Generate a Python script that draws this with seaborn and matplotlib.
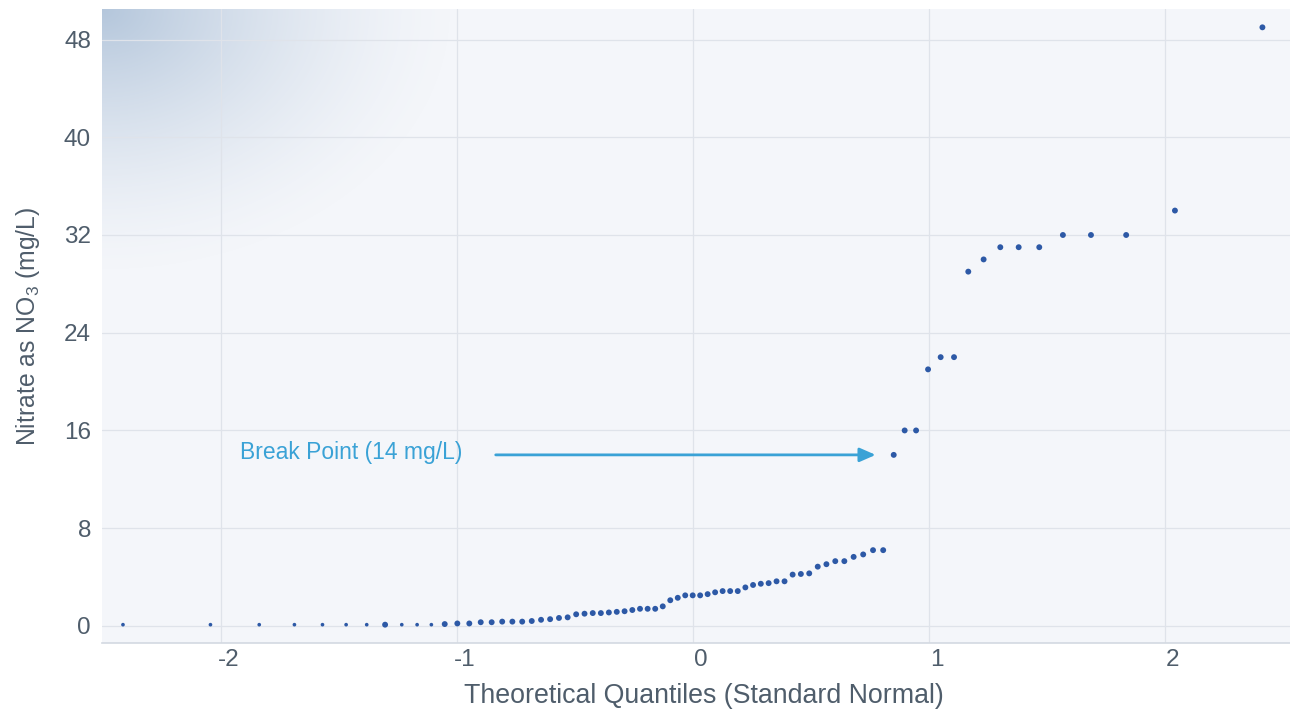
import numpy as np
import pandas as pd
import matplotlib
matplotlib.use("Agg")
import matplotlib.pyplot as plt
import matplotlib.transforms as mtransforms
import seaborn as sns
from statistics import NormalDist

# Sorted nitrate results (mg/L as NO3)
nitrate = [
    0.1, 0.1, 0.1, 0.1, 0.1, 0.1, 0.1, 0.1, 0.1, 0.1, 0.1,
    0.15, 0.2, 0.2, 0.3, 0.3, 0.35, 0.35, 0.35, 0.4, 0.5, 0.55, 0.65, 0.7,
    0.95, 1.0, 1.05, 1.05, 1.1, 1.15, 1.2, 1.3, 1.4, 1.4, 1.4, 1.6,
    2.1, 2.3, 2.5, 2.5, 2.5, 2.6, 2.75, 2.85, 2.85, 2.85,
    3.15, 3.35, 3.45, 3.5, 3.65, 3.65, 4.2, 4.25, 4.3, 4.85, 5.05,
    5.3, 5.3, 5.65, 5.85, 6.2, 6.2,
    14, 16, 16, 21, 22, 22, 29, 30, 31, 31, 31, 32, 32, 32, 34, 49,
]
# Results reported below the laboratory reporting limit
below_rl = [True] * 7 + [False] + [True] * 3 + [False] * (len(nitrate) - 11)

y_ticks = [0, 8, 16, 24, 32, 40, 48]
x_ticks = [-2, -1, 0, 1, 2]
break_value = 14
break_label = "Break Point (14 mg/L)"

# Blom plotting positions -> standard normal quantiles
n = len(nitrate)
nd = NormalDist()
quantiles = [nd.inv_cdf((i - 0.375) / (n + 0.25)) for i in range(1, n + 1)]

df = pd.DataFrame({"quantile": quantiles, "nitrate": nitrate,
                   "below_rl": below_rl})

sns.set_theme(style="white")
plt.rcParams["font.family"] = ["Liberation Sans", "DejaVu Sans"]
plt.rcParams["axes.unicode_minus"] = False
plt.rcParams["mathtext.default"] = "regular"

text_col = "#4f5d6b"
dot_col = "#2d59a6"
arrow_col = "#3aa2d6"
bg_col = "#f4f6fa"

fig = plt.figure(figsize=(12.9, 7.1), dpi=100, facecolor="white")
ax = fig.add_axes([102 / 1290, (710 - 643) / 710, 1 - 102 / 1290, (643 - 9) / 710])
ax.set_facecolor(bg_col)

# soft shaded corner in the upper left of the plotting area
h, w = 300, 600
yy, xx = np.mgrid[0:h, 0:w]
dx = xx / w
dy = yy / h
r = np.sqrt((dx / 0.30) ** 2 + (dy / 0.42) ** 2)
alpha = np.clip(1 - r, 0, 1) ** 1.5 * 0.9
rgba = np.zeros((h, w, 4))
rgba[..., 0] = 0.68
rgba[..., 1] = 0.76
rgba[..., 2] = 0.85
rgba[..., 3] = alpha
ax.imshow(rgba, extent=[0, 1, 0, 1], transform=ax.transAxes,
          aspect="auto", zorder=0, interpolation="bilinear")

sns.scatterplot(data=df, x="quantile", y="nitrate", size="below_rl",
                sizes={True: 7, False: 18}, color=dot_col, linewidth=0,
                legend=False, ax=ax, zorder=3)

ax.set_xlim(-2.503, 2.531)
ax.set_ylim(-1.4, 50.5)
ax.set_xticks(x_ticks)
ax.set_yticks(y_ticks)
ax.grid(True, color="#dfe3ea", linewidth=0.9)
ax.set_axisbelow(True)
for s in ["top", "right", "left"]:
    ax.spines[s].set_visible(False)
ax.spines["bottom"].set_color("#d3d9e1")
ax.spines["bottom"].set_linewidth(1.2)
ax.tick_params(axis="both", length=0, labelsize=17.5, labelcolor=text_col)
ax.tick_params(axis="y", pad=8)
ax.tick_params(axis="x", pad=4)

# x tick labels sit slightly to the right of their gridlines
shift = mtransforms.ScaledTranslation(8 / 100, 0, fig.dpi_scale_trans)
for lbl in ax.get_xticklabels():
    lbl.set_transform(lbl.get_transform() + shift)

ax.set_xlabel("Theoretical Quantiles (Standard Normal)", fontsize=19.3,
              color=text_col)
ax.xaxis.set_label_coords(0.507, -0.063)
ax.set_ylabel("Nitrate as NO$_3$ (mg/L)", fontsize=17.8, color=text_col,
              labelpad=16)

# annotate the break point
bp = df[df["nitrate"] == break_value].iloc[0]
ax.annotate("", xy=(bp["quantile"], bp["nitrate"]),
            xytext=(-398, 0), textcoords="offset pixels",
            arrowprops=dict(arrowstyle="-|>,head_length=0.8,head_width=0.35",
                            color=arrow_col, lw=2, shrinkA=0, shrinkB=13))
ax.annotate(break_label, xy=(bp["quantile"], bp["nitrate"]),
            xytext=(-431, 2), textcoords="offset pixels",
            ha="right", va="center", fontsize=16.5, color=arrow_col)

fig.savefig("out.png", dpi=100, facecolor="white")
